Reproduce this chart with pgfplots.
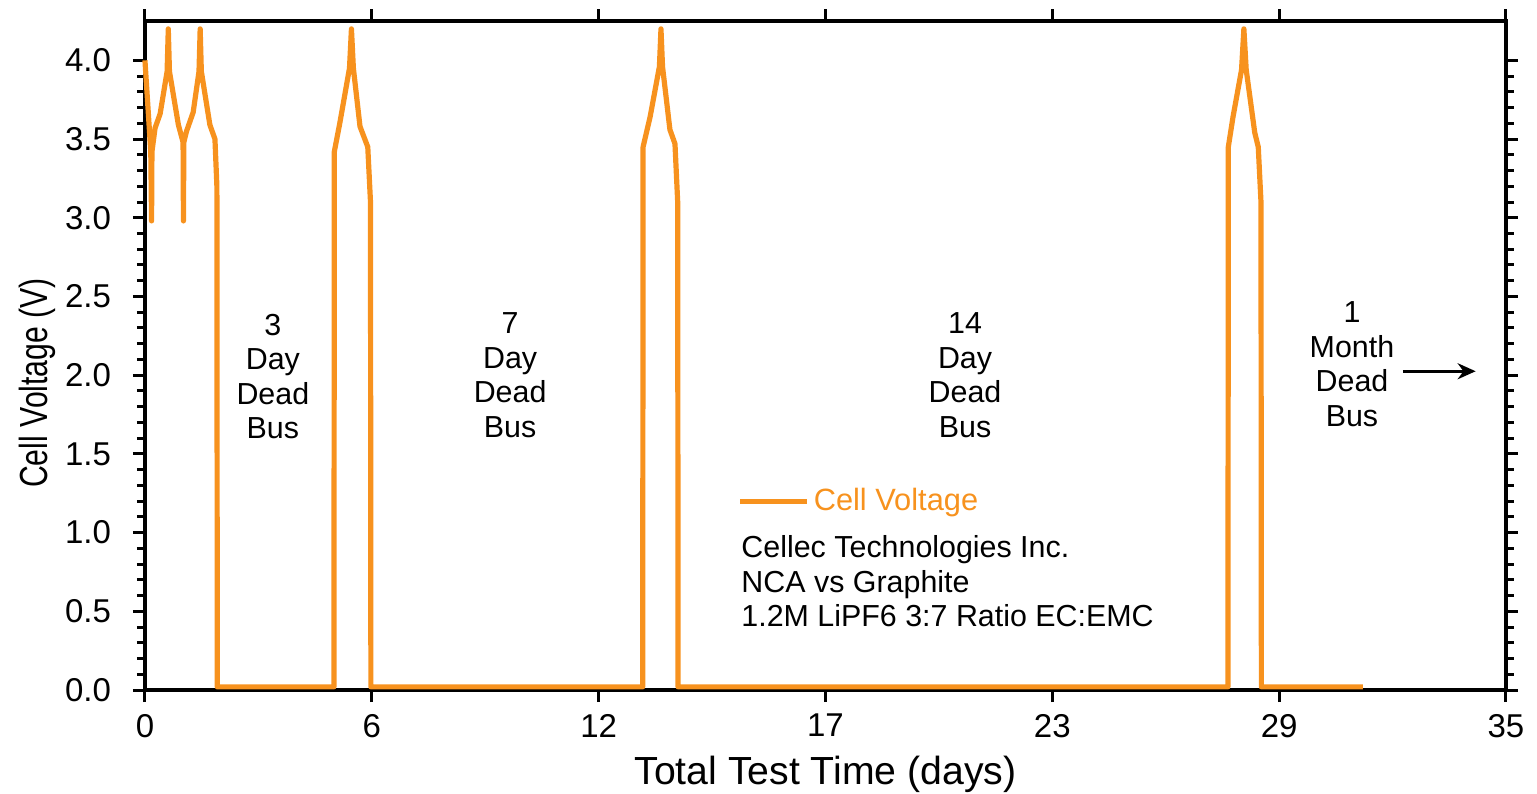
\documentclass[border=0pt]{standalone}
\usepackage{pgfplots}
\pgfplotsset{compat=1.18}
\usepackage{fontspec}
\setmainfont{Liberation Sans}
\usetikzlibrary{arrows.meta}
\definecolor{cvorange}{RGB}{247,146,30}

% Cell voltage during repeated dead-bus storage tests
\pgfplotstableread{
t      v
0.00   4.00
0.15   3.42
0.17   2.98
0.18   3.42
0.26   3.57
0.39   3.66
0.57   3.93
0.60   4.20
0.63   3.93
0.86   3.59
0.98   3.48
0.99   2.98
1.00   3.48
1.07   3.55
1.24   3.67
1.39   3.93
1.42   4.20
1.45   3.93
1.67   3.59
1.80   3.50
1.85   3.20
1.86   0.02
4.86   0.02
4.87   3.42
5.01   3.60
5.26   3.95
5.31   4.20
5.36   3.95
5.53   3.58
5.73   3.45
5.80   3.10
5.81   0.02
12.80  0.02
12.81  3.45
12.99  3.64
13.23  3.96
13.27  4.20
13.31  3.96
13.50  3.56
13.63  3.47
13.70  3.10
13.71  0.02
27.85  0.02
27.86  3.45
27.98  3.64
28.20  3.94
28.26  4.20
28.32  3.94
28.54  3.54
28.63  3.45
28.70  3.10
28.71  0.02
31.32  0.02
}\voltdata

\begin{document}
\begin{tikzpicture}
\begin{axis}[
  scale only axis,
  width=680.5pt, height=334.5pt,
  xmin=0, xmax=35, ymin=0, ymax=4.25,
  clip=false,
  axis line style={line width=1.8pt},
  tick style={line width=1.5pt, black},
  tick align=outside,
  major tick length=6pt,
  minor tick length=4pt,
  xtick={0,5.83333,11.66667,17.5,23.33333,29.16667,35},
  xticklabels={0,6,12,17,23,29,35},
  minor x tick num=4,
  ytick={0,0.5,...,4.0},
  minor y tick num=4,
  yticklabel style={/pgf/number format/.cd, fixed, fixed zerofill, precision=1},
  /pgf/number format/assume math mode=true,
  ticklabel style={font=\fontsize{16.5}{19}\selectfont},
  yticklabel shift=7.5pt,
  xticklabel shift=2.5pt,
  xlabel={Total Test Time (days)},
  ylabel={\scalebox{0.77}[1]{Cell Voltage (V)}},
  label style={font=\fontsize{19.6}{22}\selectfont},
  xlabel style={at={(rel axis cs:0.5,-0.1405)}, anchor=base},
  ylabel style={at={(rel axis cs:-0.0713,0.459)}, anchor=base, rotate=0},
  legend style={at={(axis cs:15.23,1.20)}, anchor=west, draw=none, fill=none,
    font=\fontsize{15.4}{17}\selectfont, text=cvorange, inner sep=0pt},
  legend cell align=left,
  legend image code/.code={\draw[#1, line width=2.6pt] (0pt,0pt) -- (33.5pt,0pt);},
]
\addplot[cvorange, line width=2.6pt, line join=round] table[x=t, y=v] {\voltdata};
\addlegendentry{Cell Voltage}

\begin{scope}[font=\fontsize{15.2}{17.25}\selectfont, align=center, inner sep=0pt]
  \node at (axis cs:3.29,1.99) {3\\Day\\Dead\\Bus};
  \node at (axis cs:9.39,2.00) {7\\Day\\Dead\\Bus};
  \node at (axis cs:21.09,2.00) {14\\Day\\Dead\\Bus};
  \node at (axis cs:31.04,2.07) {1\\Month\\Dead\\Bus};
  \node[anchor=west, align=left] at (axis cs:15.33,0.69)
    {Cellec Technologies Inc.\\NCA vs Graphite\\1.2M LiPF6 3:7 Ratio EC:EMC};
\end{scope}
\draw[line width=1.5pt, -{Stealth[length=9pt, width=8pt]}]
  (axis cs:32.35,2.025) -- (axis cs:34.22,2.025);

\coordinate (bbl) at (rel axis cs:-0.1065,-0.154);
\coordinate (btr) at (rel axis cs:1.0228,1.0314);
\end{axis}
\pgfresetboundingbox
\path (bbl) rectangle (btr);
\end{tikzpicture}
\end{document}
